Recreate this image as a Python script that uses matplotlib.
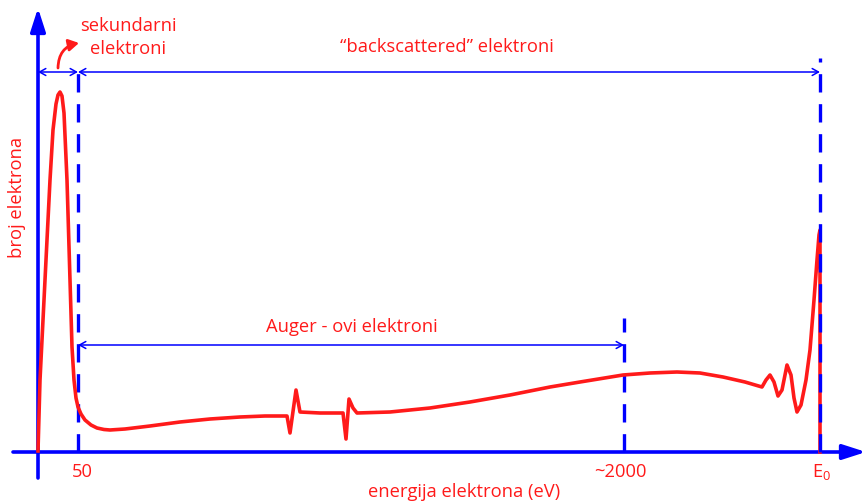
import matplotlib
matplotlib.use("Agg")
import matplotlib.pyplot as plt
from matplotlib.patches import FancyArrowPatch

# Spectrum (x: energy position, y: height on canvas, pixel-like units)
curve_x = [38, 40, 45, 50, 53, 56, 58, 60, 62, 64, 67, 70, 72, 74, 76, 78, 81, 85, 91, 97, 104, 110,
           125, 150, 180, 210, 240, 265, 287, 290, 296, 300, 320, 343, 346, 349, 353, 357,
           390, 430, 470, 510, 550, 580, 623, 650, 677, 700, 723, 745, 762,
           766, 770, 774, 778, 782, 787, 791, 794, 797, 801, 806, 810, 814, 817, 819, 820, 820]
curve_y = [451, 380, 280, 180, 130, 104, 95, 92, 96, 113, 180, 280, 347, 380, 398, 407, 414, 420, 425,
           428, 429.5, 430, 429, 426, 422, 419, 417, 416, 416, 433, 390, 412, 413, 413, 439, 399,
           408, 413, 412, 408, 402, 395, 387, 382, 375, 373, 372, 373, 377, 382, 387,
           380, 375, 382, 396, 390, 365, 375, 398, 412, 405, 380, 350, 300, 260, 235, 230, 452]

ORIGIN_X, BASE_Y = 38, 452
E50_X, E2000_X, E0_X = 78, 624, 820
tick_labels = ["50", "~2000", "E"]

RED = "#ff1a1a"
BLUE = "#0000ff"

fig = plt.figure(figsize=(8.66, 5.01), dpi=100)
ax = fig.add_axes([0, 0, 1, 1])
ax.set_xlim(0, 866)
ax.set_ylim(501, 0)
ax.axis("off")

plt.rcParams["font.family"] = ["Open Sans", "DejaVu Sans"]
FS = 13.2

# axes (blue arrows)
ax.annotate("", xy=(866, BASE_Y), xytext=(13, BASE_Y),
            arrowprops=dict(arrowstyle="-|>,head_length=1.4,head_width=0.45", color=BLUE, lw=2.6,
                            shrinkA=0, shrinkB=0))
ax.annotate("", xy=(ORIGIN_X, 8), xytext=(ORIGIN_X, 478),
            arrowprops=dict(arrowstyle="-|>,head_length=1.4,head_width=0.45", color=BLUE, lw=2.6,
                            shrinkA=0, shrinkB=0))

# spectrum
ax.plot(curve_x, curve_y, color=RED, lw=2.6, solid_joinstyle="round", zorder=3)

# dashed markers
dash = dict(color=BLUE, lw=2.4, linestyle=(0, (5.5, 3.5)))
ax.plot([E50_X, E50_X], [BASE_Y, 72], zorder=2, **dash)
ax.plot([E2000_X, E2000_X], [BASE_Y, 318], zorder=2, **dash)
ax.plot([E0_X, E0_X], [BASE_Y, 58], zorder=4, **dash)

# range arrows
def range_arrow(x0, x1, y):
    ax.annotate("", xy=(x1, y), xytext=(x0, y),
                arrowprops=dict(arrowstyle="<->,head_length=0.45,head_width=0.25", color=BLUE,
                                lw=1.1, shrinkA=0, shrinkB=0))

range_arrow(ORIGIN_X, E50_X, 72)
range_arrow(E50_X, E0_X, 72)
range_arrow(E50_X, E2000_X, 345)

# curved red arrow
arr = FancyArrowPatch((58, 68), (79, 43), connectionstyle="arc3,rad=-0.4",
                      arrowstyle="-|>,head_length=0.6,head_width=0.35", color=RED, lw=2.0,
                      mutation_scale=10, shrinkA=0, shrinkB=0)
ax.add_patch(arr)

# texts
ax.text(128, 26, "sekundarni", color=RED, fontsize=FS, ha="center", va="center")
ax.text(128, 49, "elektroni", color=RED, fontsize=FS, ha="center", va="center")
ax.text(447, 47, "\u201cbackscattered\u201d elektroni", color=RED, fontsize=FS, ha="center", va="center")
ax.text(352, 327, "Auger - ovi elektroni", color=RED, fontsize=FS, ha="center", va="center")
ax.text(17, 197, "broj elektrona", color=RED, fontsize=FS, ha="center", va="center", rotation=90)
ax.text(464, 492, "energija elektrona (eV)", color=RED, fontsize=FS, ha="center", va="center")
ax.text(E50_X + 4, 472, tick_labels[0], color=RED, fontsize=FS, ha="center", va="center")
ax.text(E2000_X - 4, 472, tick_labels[1], color=RED, fontsize=FS, ha="center", va="center")
ax.text(E0_X + 2, 472, r"E$_\mathregular{0}$", color=RED, fontsize=FS, ha="center", va="center")

fig.savefig("out.png", dpi=100)
